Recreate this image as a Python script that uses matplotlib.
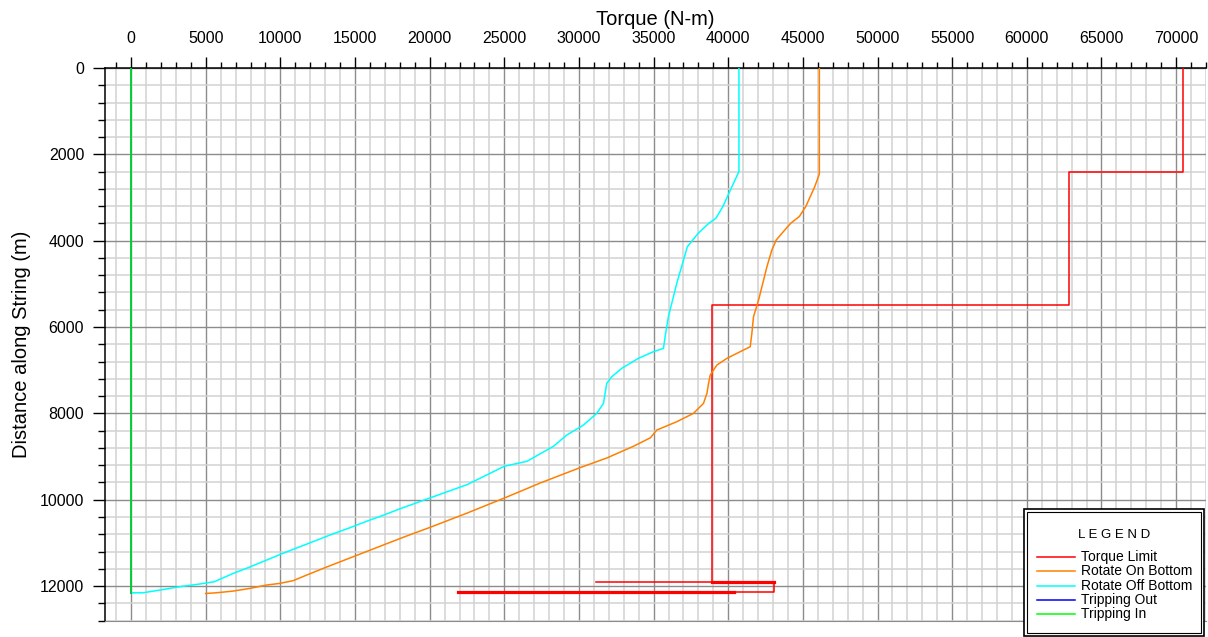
import matplotlib
matplotlib.use("Agg")
import matplotlib.pyplot as plt
from matplotlib.ticker import MultipleLocator
from matplotlib.lines import Line2D
from matplotlib.patches import Rectangle

plt.rcParams['font.family'] = ['Liberation Sans', 'DejaVu Sans']

# ---------------- data ----------------
# Rotate Off Bottom (cyan)
off_torque = [40714, 40714, 40190, 39640, 39170, 38690, 37980, 37260, 36550, 35990,
              35770, 35660, 34990, 33980, 32870, 32200, 31860, 31750, 31640, 31190,
              30300, 29180, 28300, 26520, 25000, 22500, 20000, 18010, 16890, 15770,
              14650, 13530, 12420, 11300, 10180, 9060, 7940, 6820, 5930, 5590,
              4590, 3240, 1900, 780, 0]
off_depth = [0, 2400, 2790, 3210, 3480, 3600, 3830, 4140, 4988, 5761,
             6224, 6494, 6571, 6725, 6956, 7150, 7305, 7536, 7768, 8000,
             8270, 8502, 8760, 9109, 9225, 9651, 9961, 10210, 10360, 10500,
             10650, 10790, 10940, 11090, 11240, 11400, 11560, 11710, 11844, 11898,
             11953, 12016, 12094, 12156, 12156]

# Rotate On Bottom (orange)
on_torque = [46100, 46100, 45790, 45190, 44760, 44170, 43690, 43210, 42920, 42590,
             42030, 41690, 41580, 41470, 40800, 39910, 39240, 38790, 38680, 38570,
             38340, 37670, 36550, 35210, 34780, 33660, 31880, 30020, 27410, 25000,
             22500, 20000, 18460, 17110, 15770, 14430, 13090, 11740, 10850, 9960,
             9060, 7940, 6820, 5700, 4990]
on_depth = [0, 2455, 2750, 3210, 3440, 3600, 3790, 3985, 4216, 4602,
            5374, 5761, 6147, 6456, 6571, 6725, 6880, 7112, 7305, 7536,
            7768, 8000, 8193, 8386, 8566, 8760, 9031, 9264, 9612, 9961,
            10310, 10643, 10840, 11020, 11200, 11380, 11560, 11748, 11875, 11938,
            11977, 12055, 12117, 12156, 12172]

# Torque Limit (red) main step path
limit_torque = [70480, 70480, 62790, 62790, 38940, 38940, 43030, 43030, 40350]
limit_depth = [0, 2400, 2400, 5500, 5500, 11910, 11910, 12140, 12140]
# extra torque-limit segments near bottom (BHA components)
limit_thin_torque = [31150, 38940]
limit_thin_depth = [11910, 11910]
limit_bha1_torque = [38940, 43030]
limit_bha1_depth = [11910, 11910]
limit_bha2_torque = [21920, 40350]
limit_bha2_depth = [12145, 12145]

# Tripping Out (blue) and Tripping In (green)
trip_out_torque = [0, 0]
trip_out_depth = [0, 12156]
trip_in_torque = [0, 0]
trip_in_depth = [0, 12156]

legend_labels = ["Torque Limit", "Rotate On Bottom", "Rotate Off Bottom",
                 "Tripping Out", "Tripping In"]
colors = ["#ff0000", "#ff8000", "#00ffff", "#0000ff", "#00ff00"]

# ---------------- figure ----------------
W, H = 1208, 637
fig = plt.figure(figsize=(W / 100, H / 100), dpi=100)
L, R, T, B = 105, 1206, 68, 620.6
ax = fig.add_axes([L / W, 1 - B / H, (R - L) / W, (B - T) / H])

lw = 1.1
ax.plot(limit_torque, limit_depth, color=colors[0], lw=lw, zorder=3)
ax.plot(limit_thin_torque, limit_thin_depth, color=colors[0], lw=lw, zorder=3)
ax.plot(limit_bha1_torque, limit_bha1_depth, color=colors[0], lw=2.3, zorder=3)
ax.plot(limit_bha2_torque, limit_bha2_depth, color=colors[0], lw=2.3, zorder=3)
ax.plot(on_torque, on_depth, color=colors[1], lw=lw, zorder=3)
ax.plot(off_torque, off_depth, color=colors[2], lw=lw, zorder=3)
ax.plot(trip_out_torque, trip_out_depth, color=colors[3], lw=lw, zorder=3)
ax.plot(trip_in_torque, trip_in_depth, color=colors[4], lw=lw, zorder=4)

ax.set_xlim(-1750, 72000)
ax.set_ylim(12800, 0)

ax.xaxis.set_major_locator(MultipleLocator(5000))
ax.xaxis.set_minor_locator(MultipleLocator(1000))
ax.yaxis.set_major_locator(MultipleLocator(2000))
ax.yaxis.set_minor_locator(MultipleLocator(400))

ax.xaxis.tick_top()
ax.xaxis.set_label_position('top')
ax.tick_params(axis='x', which='both', top=True, bottom=False, direction='out',
               labelsize=11.5, pad=8)
ax.tick_params(axis='x', which='major', length=8, width=1)
ax.tick_params(axis='x', which='minor', length=4, width=1)
ax.tick_params(axis='y', which='both', left=True, right=False, direction='out',
               labelsize=11.5, pad=6)
ax.tick_params(axis='y', which='major', length=9, width=1)
ax.tick_params(axis='y', which='minor', length=5, width=1)

ax.set_axisbelow(True)
ax.grid(which='major', color='#8c8c8c', lw=1.0)
ax.grid(which='minor', color='#d2d2d2', lw=1.1)

for s in ['top', 'left']:
    ax.spines[s].set_color('black')
    ax.spines[s].set_linewidth(1.1)
ax.spines['right'].set_visible(False)
ax.spines['bottom'].set_color('#8c8c8c')

ax.set_xlabel("Torque (N-m)", fontsize=14.5, labelpad=4)
ax.set_ylabel("Distance along String (m)", fontsize=14.5, labelpad=6)

# ---------------- legend box ----------------
def fx(px):
    return px / W

def fy(py):
    return 1 - py / H

bx0, by0, bx1, by1 = 1024, 509, 1204, 636
fig.add_artist(Rectangle((fx(bx0), fy(by1)), fx(bx1) - fx(bx0), fy(by0) - fy(by1),
                         transform=fig.transFigure, facecolor='white',
                         edgecolor='black', lw=1.2, zorder=10))
fig.add_artist(Rectangle((fx(bx0 + 3), fy(by1 - 3)), fx(bx1 - bx0 - 6), fy(by0 + 3) - fy(by1 - 3),
                         transform=fig.transFigure, facecolor='none',
                         edgecolor='black', lw=0.8, zorder=11))
fig.text(fx(1114), fy(535), "L E G E N D", ha='center', va='center',
         fontsize=9.5, zorder=12)
row_y = [557, 571, 586, 600, 614]
for lab, col, yy in zip(legend_labels, colors, row_y):
    fig.add_artist(Line2D([fx(1037), fx(1075)], [fy(yy), fy(yy)],
                          transform=fig.transFigure, color=col, lw=1.1, zorder=12))
    fig.text(fx(1081), fy(yy), lab, ha='left', va='center', fontsize=10, zorder=12)

fig.savefig("out.png", dpi=100)
